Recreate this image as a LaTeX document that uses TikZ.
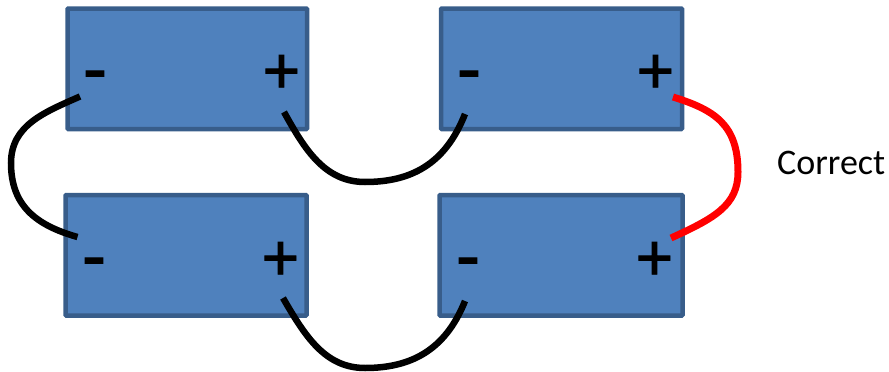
\documentclass[tikz,border=0pt]{standalone}
\usepackage{fontspec}
\setmainfont{Carlito}
\newfontfamily\symfont[FakeBold=1.2]{Carlito}
\tikzset{
  battery/.style={draw=batedge,fill=batfill,line width=4.5pt,rounded corners=0.8pt,anchor=north west,inner sep=0pt,outer sep=0pt},
  wire/.style={line width=6.5pt,black},
  redwire/.style={line width=7pt,red},
  pluslabel/.style={font=\symfont\fontsize{69}{69}\selectfont,inner sep=0pt,text=black},
  minuslabel/.style={font=\symfont\fontsize{76}{76}\selectfont,inner sep=0pt,text=black},
  caption/.style={font=\fontsize{36}{36}\selectfont,inner sep=0pt,text=black,anchor=base west}
}
\definecolor{batfill}{HTML}{4F81BD}
\definecolor{batedge}{HTML}{385D8A}
\begin{document}
\begin{tikzpicture}[x=1pt,y=-1pt]
\useasboundingbox (0,0) rectangle (889,372);
\node[battery,minimum width=239.5pt,minimum height=120.5pt] (tl) at (67.5,8.5) {};
\node[battery,minimum width=241pt,minimum height=120.5pt] (tr) at (441,8.5) {};
\node[battery,minimum width=241pt,minimum height=120.5pt] (bl) at (65.5,195) {};
\node[battery,minimum width=243pt,minimum height=120.5pt] (br) at (439.5,195) {};
\node[minuslabel] (tlm) at (95,83) {-};
\node[pluslabel] (tlp) at (281.5,74) {+};
\node[minuslabel] (trm) at (469,83) {-};
\node[pluslabel] (trp) at (655.5,74) {+};
\node[minuslabel] (blm) at (94,270) {-};
\node[pluslabel] (blp) at (280.5,261) {+};
\node[minuslabel] (brm) at (468,270) {-};
\node[pluslabel] (brp) at (654.5,261) {+};
\node[caption] (cap) at (777,174) {Correct};
\coordinate (a1) at (80,96.5);
\coordinate (a2) at (77.5,237);
\coordinate (b1) at (284,112);
\coordinate (b2) at (465,114);
\coordinate (c1) at (283,298);
\coordinate (c2) at (465,301);
\coordinate (d1) at (673,97);
\coordinate (d2) at (671,238);
\draw[wire] (a1) .. controls (45,112) and (11,125) .. (11,163) .. controls (11,205) and (35,225) .. (a2);
\draw[wire] (b1) .. controls (305,150) and (325,182) .. (365,182) .. controls (410,182) and (445,165) .. (b2);
\draw[wire] (c1) .. controls (305,336) and (325,368) .. (365,368) .. controls (410,368) and (445,351) .. (c2);
\draw[redwire] (d1) .. controls (715,110) and (738,125) .. (738,172) .. controls (738,205) and (715,218) .. (d2);
\end{tikzpicture}
\end{document}
